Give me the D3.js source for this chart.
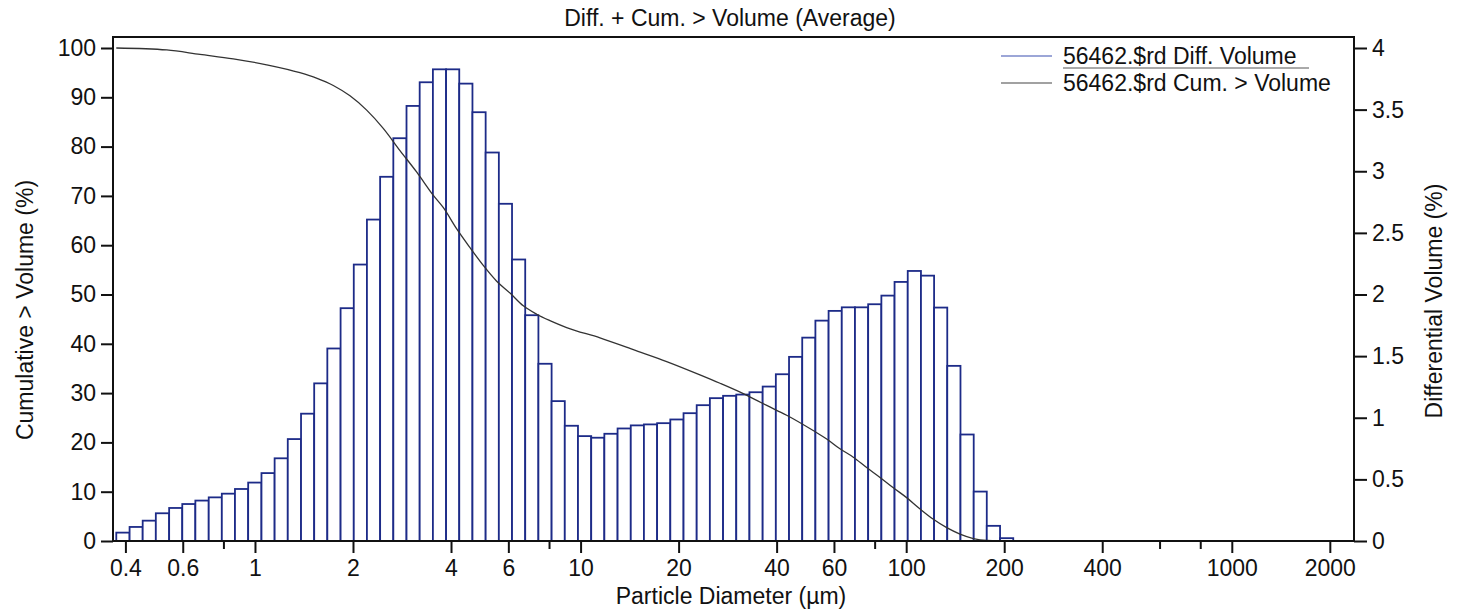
<!DOCTYPE html>
<html><head><meta charset="utf-8">
<script src="https://cdn.jsdelivr.net/npm/d3@7"></script>
<style>
html,body{margin:0;padding:0;background:#fff;}
svg{display:block;}
text{font-family:"Liberation Sans",Arial,Helvetica,sans-serif;fill:#111;}
</style>
</head><body>
<svg id="chart" width="1460" height="612"></svg>
<script>
// ---- data ----
const binEdges = [0.375,0.412,0.452,0.496,0.545,0.598,0.656,0.721,0.791,0.868,
  0.953,1.047,1.149,1.261,1.385,1.520,1.668,1.832,2.011,2.207,
  2.423,2.660,2.920,3.205,3.519,3.863,4.240,4.655,5.110,5.610,
  6.158,6.760,7.421,8.147,8.943,9.817,10.78,11.83,12.99,14.26,
  15.65,17.18,18.86,20.71,22.73,24.95,27.39,30.07,33.01,36.24,
  39.78,43.67,47.94,52.62,57.77,63.41,69.61,76.42,83.90,92.10,
  101.1,111.0,121.8,133.7,146.8,161.2,176.8,194.2,213.2];
const diffVolume = [0.068,0.114,0.165,0.225,0.268,0.300,0.328,0.354,0.384,0.422,0.474,0.551,0.671,0.827,1.033,1.279,
  1.562,1.889,2.243,2.608,2.955,3.268,3.530,3.722,3.827,3.827,3.711,3.479,3.152,2.736,2.284,
  1.832,1.438,1.135,0.935,0.851,0.838,0.870,0.913,0.938,0.946,0.956,0.986,1.037,1.102,1.159,
  1.178,1.188,1.207,1.253,1.353,1.494,1.650,1.788,1.867,1.896,1.896,1.921,1.991,2.102,2.191,2.153,1.894,1.421,0.864,0.401,0.123,0.023];
const cumDiameter = [0.375,0.536,0.678,0.858,1.086,1.374,1.545,1.740,1.958,2.203,2.477,2.788,3.14,3.53,3.79,4.165,4.575,5.025,5.525,6.07,6.67,7.33,8.05,9.06,11.47,14.52,18.38,23.26,26.8,31.6,37.3,42.95,51.8,57.0,62.6,68.8,75.6,83.1,91.3,100.3,110.3,121.2,133.2,146.3,160.8,176.7,194.2,213.2];
const cumVolume = [100,99.6,98.7,97.8,96.6,95.0,93.9,92.4,90.3,87.4,83.7,79.2,74.8,70.1,67.6,63.3,59.5,55.9,52.7,50.3,47.7,46.0,44.7,43.3,41.2,38.8,36.4,33.7,32.0,29.9,27.5,25.5,22.4,20.7,18.7,17.0,14.9,12.9,10.8,8.8,6.5,4.4,2.7,1.4,0.5,0.1,0.02,0];
const xTickValues = [0.4,0.6,1,2,4,6,10,20,40,60,100,200,400,1000,2000];
const xMinorTicks = [0.8,8,80,600,800];
const leftTicks = [0,10,20,30,40,50,60,70,80,90,100];
const rightTicks = [0,0.5,1,1.5,2,2.5,3,3.5,4];
const chartTitle = "Diff. + Cum. > Volume (Average)";
const xTitle = "Particle Diameter (µm)";
const leftTitle = "Cumulative > Volume (%)";
const rightTitle = "Differential Volume (%)";
const legendLabels = ["56462.$rd Diff. Volume", "56462.$rd Cum. > Volume"];

// ---- layout ----
const L = 113, R = 1354, T = 37, B = 541, YTOP = 48;
const FS = 23;
const svg = d3.select("#chart");

const x = d3.scaleLog().domain([0.3664, 2373]).range([L, R]);
const yL = d3.scaleLinear().domain([0, 100]).range([B, YTOP]);
const yR = d3.scaleLinear().domain([0, 4]).range([B, YTOP]);

// bars
const bars = diffVolume.map((v, i) => ({v, a: binEdges[i], b: binEdges[i + 1]}));
svg.append("g").selectAll("rect").data(bars).join("rect")
  .attr("x", d => x(d.a)).attr("width", d => x(d.b) - x(d.a))
  .attr("y", d => yR(d.v)).attr("height", d => B - yR(d.v))
  .attr("fill", "#fff").attr("stroke", "#1d2b88").attr("stroke-width", 1.8);

// cumulative curve
const cum = cumDiameter.map((d, i) => [d, cumVolume[i]]);
svg.append("path").datum(cum)
  .attr("d", d3.line().x(d => x(d[0])).y(d => yL(d[1])).curve(d3.curveMonotoneX))
  .attr("fill", "none").attr("stroke", "#333").attr("stroke-width", 1.3);

// axes
const fmt = d3.format("~g");
const gL = svg.append("g").attr("transform", `translate(${L},0)`)
  .call(d3.axisLeft(yL).tickValues(leftTicks).tickSize(12).tickPadding(5).tickFormat(fmt));
const gR = svg.append("g").attr("transform", `translate(${R},0)`)
  .call(d3.axisRight(yR).tickValues(rightTicks).tickSize(13).tickPadding(5).tickFormat(fmt));
const gX = svg.append("g").attr("transform", `translate(0,${B})`)
  .call(d3.axisBottom(x).tickValues(xTickValues).tickSize(12).tickPadding(7).tickFormat(fmt));
const gXm = svg.append("g").attr("transform", `translate(0,${B})`)
  .call(d3.axisBottom(x).tickValues(xMinorTicks).tickSize(8).tickFormat(""));
[gL, gR, gX, gXm].forEach(g => {
  g.select(".domain").remove();
  g.selectAll("line").attr("stroke", "#111").attr("stroke-width", 2);
  g.selectAll("text").attr("font-size", FS).attr("fill", "#111")
    .attr("font-family", '"Liberation Sans",Arial,sans-serif');
});

// frame
svg.append("rect").attr("x", L).attr("y", T).attr("width", R - L).attr("height", B - T)
  .attr("fill", "none").attr("stroke", "#111").attr("stroke-width", 2);

// titles
svg.append("text").attr("x", 730).attr("y", 26).attr("text-anchor", "middle")
  .attr("font-size", FS).text(chartTitle);
svg.append("text").attr("x", 731).attr("y", 604).attr("text-anchor", "middle")
  .attr("font-size", FS).text(xTitle);
svg.append("text").attr("transform", "translate(33,310) rotate(-90)").attr("text-anchor", "middle")
  .attr("font-size", FS).text(leftTitle);
svg.append("text").attr("transform", "translate(1442,301) rotate(-90)").attr("text-anchor", "middle")
  .attr("font-size", FS).text(rightTitle);

// legend
const legColors = ["#3a4fb0", "#444"];
const legY = [56, 83];
legendLabels.forEach((lab, i) => {
  svg.append("line").attr("x1", 1001).attr("x2", 1052).attr("y1", legY[i]).attr("y2", legY[i])
    .attr("stroke", legColors[i]).attr("stroke-width", 1.2);
  svg.append("text").attr("x", 1063).attr("y", legY[i] + 8).attr("font-size", FS).text(lab);
});
svg.append("line").attr("x1", 1063).attr("x2", 1309).attr("y1", 68).attr("y2", 68)
  .attr("stroke", "#555").attr("stroke-width", 1);
</script>
</body></html>
